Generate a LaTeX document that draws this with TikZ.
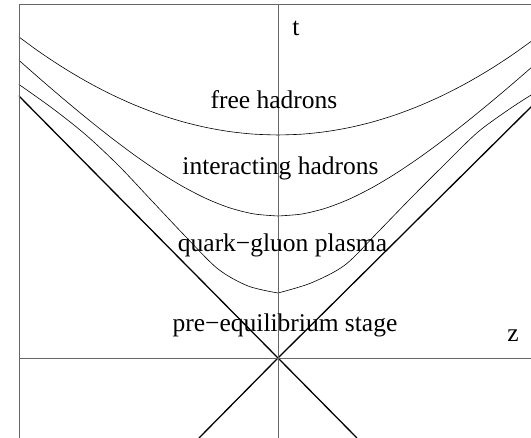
\documentclass[tikz,border=0pt]{standalone}
\usepackage{fontspec}
\setmainfont{Liberation Serif}
\begin{document}
\begin{tikzpicture}[x=1pt, y=1pt, line join=round,
  axisline/.style={gray!80!black, line width=0.8pt},
  stagecurve/.style={line width=0.6pt},
  lightcone/.style={line width=1.3pt},
  stagelabel/.style={anchor=base, inner sep=0pt, font=\fontsize{25.5}{30}\selectfont}]
\useasboundingbox (-278,-80) rectangle (253,358);
\begin{scope}
\clip (-259,-80) rectangle (253,354);
\draw[stagecurve] plot[smooth, domain=0:-264, samples=12] (\x, {223+14.6*(\x/100)*(\x/100)});
\draw[stagecurve] plot[smooth, domain=0:258, samples=12] (\x, {223+14.6*(\x/100)*(\x/100)});
\draw[stagecurve] plot[smooth, domain=0:-264, samples=12] (\x, {100*sqrt(2.0164+1.02*(\x/100)*(\x/100))});
\draw[stagecurve] plot[smooth, domain=0:258, samples=12] (\x, {100*sqrt(2.0164+(\x/100)*(\x/100))});
\draw[stagecurve] plot[smooth] coordinates {(0,65) (-30,72) (-60,89) (-92,121) (-126,157) (-159,192) (-192,223) (-226,250) (-264,277)};
\draw[stagecurve] plot[smooth] coordinates {(0,65) (33,75) (67,93) (100,126) (133,160) (167,194) (200,226) (233,250) (258,266)};
\draw[lightcone] (-262,265) -- (0,0) -- (79,-80);
\draw[lightcone] (-79,-80) -- (0,0) -- (256,254);
\end{scope}
\draw[axisline] (-259,-80) -- (-259,354) -- (253,354);
\draw[axisline] (-259,0) -- (253,0);
\draw[axisline] (0,-80) -- (0,354);
\node[stagelabel] (tlabel) at (18,322) {t};
\node[stagelabel] (zlabel) at (235,16) {z};
\node[stagelabel] (free) at (-4,249) {free hadrons};
\node[stagelabel] (inter) at (2.5,183) {interacting hadrons};
\node[stagelabel] (qgp) at (4.5,106) {quark−gluon plasma};
\node[stagelabel] (preeq) at (7,26) {pre−equilibrium stage};
\end{tikzpicture}
\end{document}
